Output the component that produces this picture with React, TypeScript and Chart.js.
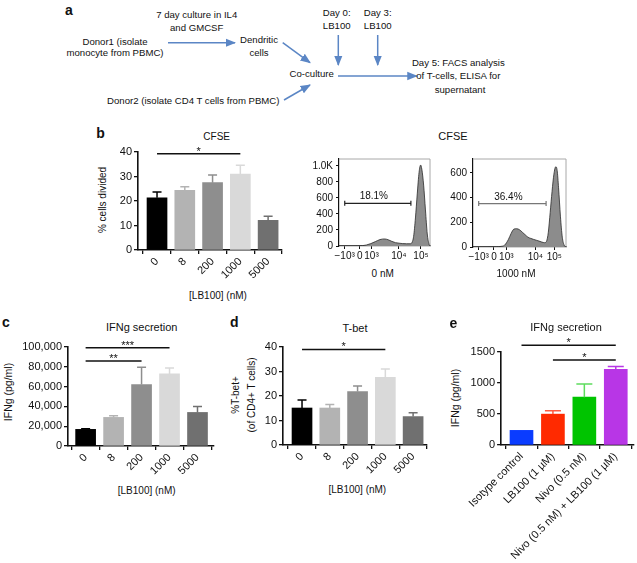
import React, { useEffect, useRef } from 'react';
import { Chart, registerables } from 'chart.js';
Chart.register(...registerables);

const FONT = '"Liberation Sans", Arial, Helvetica, sans-serif';

// ---------- data ----------
const doseLabels = ['0', '8', '200', '1000', '5000'];
const doseColors = ['#000000', '#b3b3b3', '#8e8e8e', '#d9d9d9', '#707070'];

const cfseValues = [21.3, 24.4, 27.5, 31.0, 12.1];
const cfseErrors = [2.4, 1.4, 3.1, 3.6, 1.7];

const ifngValues = [16800, 28900, 62100, 72800, 33900];
const ifngErrors = [600, 1600, 17500, 6100, 6100];

const tbetValues = [15.1, 15.1, 21.8, 27.6, 11.6];
const tbetErrors = [3.3, 1.4, 2.3, 3.4, 1.6];

const treatLabels = ['Isotype control', 'LB100 (1 µM)', 'Nivo (0.5 nM)', 'Nivo (0.5 nM) + LB100 (1 µM)'];
const treatValues = [236, 498, 772, 1222];
const treatErrors = [0, 53, 213, 43];
const treatColors = ['#0a3cff', '#ff2a00', '#00c400', '#b836e6'];
const treatErrColors = ['#0a3cff', '#ff5a40', '#5ddc5d', '#b836e6'];

const cfseSig = [{ from: 0, to: 3, y: 39.3, label: '*' }];
const ifngSig = [
  { from: 0, to: 3, y: 99200, label: '***' },
  { from: 0, to: 2, y: 85800, label: '**' },
];
const tbetSig = [{ from: 0, to: 3, y: 39.0, label: '*' }];
const treatSig = [
  { from: 0, to: 3, y: 1608, label: '*' },
  { from: 1, to: 3, y: 1371, label: '*' },
];

// histograms (x on display-transformed CFSE axis, 0..100)
const hist0nM = [
  [0, 0], [10, 0], [20, 2], [26, 5], [30, 12], [35, 30], [40, 55], [45, 80], [50, 88], [54, 78],
  [58, 58], [62, 42], [66, 35], [70, 30], [74, 28], [78, 28], [80, 40], [82, 120], [84, 350],
  [86, 650], [88, 920], [89.7, 1010], [91, 960], [93, 760], [95, 450], [97, 150], [99, 20], [100, 0],
];
const hist1000nM = [
  [0, 0], [15, 0], [25, 2], [30, 5], [34, 15], [38, 60], [41, 110], [44, 145], [47, 148], [50, 140],
  [53, 120], [56, 100], [59, 80], [62, 70], [65, 62], [68, 55], [71, 48], [74, 40], [77, 35],
  [79, 45], [81, 120], [83, 280], [85, 450], [87, 590], [89, 650], [90.5, 620], [92, 480],
  [94, 250], [96, 80], [98, 15], [100, 0],
];
const histTickLabels = ['\u221210\u00b3', '0', '10\u00b3', '10\u2074', '10\u2075'];
const histTicks0nM = [6.2, 22.8, 35.7, 65.8, 90.1];
const histTicks1000nM = [6.1, 22.5, 35.8, 67.1, 87.5];
const histYTicks0nM = [0, 200, 400, 600, 800, 1000];
const histYTicks1000nM = [0, 200, 400, 600];
const gate0nM = { from: 6.3, to: 79, y: 533, label: '18.1%' };
const gate1000nM = { from: 6.1, to: 78.6, y: 352, label: '36.4%' };

// ---------- components ----------
type Sig = { from: number; to: number; y: number; label: string };
type BarSpec = {
  labels: string[]; values: number[]; errs: number[]; colors: string[]; errColors: string[];
  yMax: number; yStep: number; fmt?: (v: number) => string; sig: Sig[];
  area: { l: number; t: number; r: number; b: number };
  xMin: number; xMax: number; barW: number; cap: number;
  yw: number; padTop: number; xh: number; padRight: number;
};

function BarPanel({ spec }: { spec: BarSpec }) {
  const ref = useRef<HTMLCanvasElement>(null);
  const { area, yw, padTop, xh, padRight } = spec;
  const w = Math.round(yw + (area.r - area.l) + padRight);
  const h = Math.round(padTop + (area.b - area.t) + xh);
  useEffect(() => {
    const extras = {
      id: 'extras',
      afterDatasetsDraw(chart: any) {
        const { ctx } = chart;
        const x = chart.scales.x, y = chart.scales.y;
        ctx.save();
        spec.values.forEach((v, i) => {
          const e = spec.errs[i];
          if (!e) return;
          const px = x.getPixelForValue(i);
          const y0 = y.getPixelForValue(v), y1 = y.getPixelForValue(v + e);
          ctx.strokeStyle = spec.errColors[i];
          ctx.lineWidth = 1.5;
          ctx.beginPath();
          ctx.moveTo(px, y0); ctx.lineTo(px, y1);
          ctx.moveTo(px - spec.cap, y1); ctx.lineTo(px + spec.cap, y1);
          ctx.stroke();
        });
        spec.sig.forEach((s) => {
          const x0 = x.getPixelForValue(s.from), x1 = x.getPixelForValue(s.to);
          const py = y.getPixelForValue(s.y);
          ctx.strokeStyle = '#111';
          ctx.lineWidth = 1.5;
          ctx.beginPath(); ctx.moveTo(x0, py); ctx.lineTo(x1, py); ctx.stroke();
          ctx.fillStyle = '#111';
          ctx.font = `11px ${FONT}`;
          ctx.textAlign = 'center';
          ctx.textBaseline = 'alphabetic';
          ctx.fillText(s.label, (x0 + x1) / 2, py + 1);
        });
        ctx.restore();
      },
    };
    const yTicks: number[] = [];
    for (let v = 0; v <= spec.yMax + 1e-9; v += spec.yStep) yTicks.push(v);
    const chart = new Chart(ref.current!, {
      type: 'bar',
      data: {
        datasets: [{
          data: spec.values.map((v, i) => ({ x: i, y: v })),
          backgroundColor: spec.colors,
          borderWidth: 0,
          barThickness: spec.barW,
        } as any],
      },
      options: {
        animation: false,
        responsive: false,
        maintainAspectRatio: false,
        layout: { padding: { left: 0, top: padTop, right: padRight, bottom: 0 } },
        plugins: { legend: { display: false }, tooltip: { enabled: false }, title: { display: false } },
        scales: {
          x: {
            type: 'linear', min: spec.xMin, max: spec.xMax, offset: false,
            afterBuildTicks: (s: any) => { s.ticks = spec.labels.map((_, i) => ({ value: i })); },
            afterFit: (s: any) => { s.height = xh; },
            ticks: {
              autoSkip: false, minRotation: 45, maxRotation: 45, padding: 1, color: '#111',
              font: { family: FONT, size: 11 },
              callback: (v: any) => spec.labels[Math.round(v)] ?? '',
            },
            grid: { display: true, drawOnChartArea: false, drawTicks: true, tickLength: 4, color: '#111', lineWidth: 1.3 },
            border: { display: true, color: '#111', width: 1.6 },
          },
          y: {
            type: 'linear', min: 0, max: spec.yMax,
            afterBuildTicks: (s: any) => { s.ticks = yTicks.map((v) => ({ value: v })); },
            afterFit: (s: any) => { s.width = yw; },
            ticks: {
              padding: 2, color: '#111', font: { family: FONT, size: 11 },
              callback: (v: any) => (spec.fmt ? spec.fmt(Number(v)) : String(v)),
            },
            grid: { display: true, drawOnChartArea: false, drawTicks: true, tickLength: 4, color: '#111', lineWidth: 1.3 },
            border: { display: true, color: '#111', width: 1.6 },
          },
        },
      } as any,
      plugins: [extras],
    });
    return () => chart.destroy();
  }, []);
  return (
    <canvas ref={ref} width={w} height={h}
      style={{ position: 'absolute', left: area.l - yw, top: area.t - padTop, width: w, height: h }} />
  );
}

type HistSpec = {
  data: number[][]; ticks: number[]; yTicks: number[]; yMax: number;
  gate: { from: number; to: number; y: number; label: string }; gateColor: string;
  area: { l: number; t: number; r: number; b: number };
};

function HistPanel({ spec }: { spec: HistSpec }) {
  const ref = useRef<HTMLCanvasElement>(null);
  const yw = 30, padTop = 4, padRight = 4, xh = 22;
  const { area } = spec;
  const w = Math.round(yw + (area.r - area.l) + padRight);
  const h = Math.round(padTop + (area.b - area.t) + xh);
  useEffect(() => {
    const extras = {
      id: 'histExtras',
      beforeDatasetsDraw(chart: any) {
        const { ctx, chartArea: ca } = chart;
        ctx.save();
        ctx.strokeStyle = '#a8a8a8';
        ctx.lineWidth = 1;
        ctx.beginPath();
        ctx.moveTo(ca.left, ca.top); ctx.lineTo(ca.right, ca.top); ctx.lineTo(ca.right, ca.bottom);
        ctx.stroke();
        ctx.restore();
      },
      afterDatasetsDraw(chart: any) {
        const { ctx } = chart;
        const x = chart.scales.x, y = chart.scales.y;
        const g = spec.gate;
        const x0 = x.getPixelForValue(g.from), x1 = x.getPixelForValue(g.to), py = y.getPixelForValue(g.y);
        ctx.save();
        ctx.strokeStyle = spec.gateColor;
        ctx.lineWidth = 1.2;
        ctx.beginPath();
        ctx.moveTo(x0, py); ctx.lineTo(x1, py);
        ctx.moveTo(x0, py - 2.5); ctx.lineTo(x0, py + 2.5);
        ctx.moveTo(x1, py - 2.5); ctx.lineTo(x1, py + 2.5);
        ctx.stroke();
        ctx.fillStyle = '#111';
        ctx.font = `10px ${FONT}`;
        ctx.textAlign = 'center';
        ctx.textBaseline = 'alphabetic';
        ctx.fillText(g.label, (x0 + x1) / 2 - 4, py - 4);
        ctx.restore();
      },
    };
    const chart = new Chart(ref.current!, {
      type: 'line',
      data: {
        datasets: [{
          data: spec.data.map(([a, b]) => ({ x: a, y: b })),
          borderColor: '#2a2a2a', borderWidth: 0.8, backgroundColor: '#8c8c8c',
          fill: 'origin', pointRadius: 0, tension: 0.35, cubicInterpolationMode: 'monotone',
        } as any],
      },
      options: {
        animation: false, responsive: false, maintainAspectRatio: false,
        layout: { padding: { left: 0, top: padTop, right: padRight, bottom: 0 } },
        plugins: { legend: { display: false }, tooltip: { enabled: false } },
        scales: {
          x: {
            type: 'linear', min: 0, max: 100,
            afterBuildTicks: (s: any) => { s.ticks = spec.ticks.map((v) => ({ value: v })); },
            afterFit: (s: any) => { s.height = xh; },
            ticks: {
              autoSkip: false, maxRotation: 0, padding: 1, color: '#111', font: { family: FONT, size: 10 },
              callback: (v: any) => {
                const i = spec.ticks.findIndex((t) => Math.abs(t - Number(v)) < 1e-6);
                return i >= 0 ? histTickLabels[i] : '';
              },
            },
            grid: { display: true, drawOnChartArea: false, drawTicks: true, tickLength: 3, color: '#111', lineWidth: 1 },
            border: { display: true, color: '#555', width: 1.2 },
          },
          y: {
            type: 'linear', min: 0, max: spec.yMax,
            afterBuildTicks: (s: any) => { s.ticks = spec.yTicks.map((v) => ({ value: v })); },
            afterFit: (s: any) => { s.width = yw; },
            ticks: {
              padding: 3, color: '#111', font: { family: FONT, size: 10 },
              callback: (v: any) => (Number(v) >= 1000 ? (Number(v) / 1000).toFixed(1) + 'K' : String(v)),
            },
            grid: { display: true, drawOnChartArea: false, drawTicks: true, tickLength: 3, color: '#111', lineWidth: 1 },
            border: { display: true, color: '#111', width: 1.2 },
          },
        },
      } as any,
      plugins: [extras],
    });
    return () => chart.destroy();
  }, []);
  return (
    <canvas ref={ref} width={w} height={h}
      style={{ position: 'absolute', left: area.l - yw, top: area.t - padTop, width: w, height: h }} />
  );
}

function T({ x, y, s = 10, bold = false, rot = 0, children }: any) {
  return (
    <div style={{
      position: 'absolute', left: x, top: y, transform: `translate(-50%, -50%) rotate(${rot}deg)`,
      fontFamily: FONT, fontSize: s, fontWeight: bold ? 700 : 400, whiteSpace: 'nowrap', lineHeight: 1,
      color: '#111',
    }}>{children}</div>
  );
}

const arrows = [
  [168, 42.7, 235, 42.7],
  [282.7, 42.7, 310, 62.7],
  [284, 100, 310, 85],
  [338, 76, 416.7, 76],
  [338.3, 35, 338.3, 65],
  [377.7, 35, 377.7, 65],
];

const fmtComma = (v: number) => v.toLocaleString('en-US');

export default function App() {
  const specB: BarSpec = {
    labels: doseLabels, values: cfseValues, errs: cfseErrors, colors: doseColors, errColors: doseColors,
    yMax: 40, yStep: 10, sig: cfseSig,
    area: { l: 137.7, t: 151.7, r: 281.7, b: 250 }, xMin: -0.685, xMax: 4.5, barW: 20, cap: 4.5,
    yw: 24, padTop: 12, xh: 40, padRight: 6,
  };
  const specC: BarSpec = {
    labels: doseLabels, values: ifngValues, errs: ifngErrors, colors: doseColors, errColors: doseColors,
    yMax: 100000, yStep: 20000, fmt: fmtComma, sig: ifngSig,
    area: { l: 67.7, t: 346.7, r: 213.3, b: 446 }, xMin: -0.63, xMax: 4.59, barW: 20, cap: 4.5,
    yw: 50, padTop: 12, xh: 36, padRight: 6,
  };
  const specD: BarSpec = {
    labels: doseLabels, values: tbetValues, errs: tbetErrors, colors: doseColors, errColors: doseColors,
    yMax: 40, yStep: 10, sig: tbetSig,
    area: { l: 282.7, t: 346.7, r: 426.7, b: 444.3 }, xMin: -0.685, xMax: 4.5, barW: 20, cap: 4.5,
    yw: 24, padTop: 12, xh: 36, padRight: 6,
  };
  const specE: BarSpec = {
    labels: treatLabels, values: treatValues, errs: treatErrors, colors: treatColors, errColors: treatErrColors,
    yMax: 1500, yStep: 500, sig: treatSig,
    area: { l: 496.7, t: 351.7, r: 633.3, b: 445 }, xMin: -0.65, xMax: 3.58, barW: 23, cap: 8,
    yw: 32, padTop: 16, xh: 115, padRight: 3,
  };
  const specH1: HistSpec = {
    data: hist0nM, ticks: histTicks0nM, yTicks: histYTicks0nM, yMax: 1086, gate: gate0nM, gateColor: '#222',
    area: { l: 339.3, t: 154, r: 430, b: 245.7 },
  };
  const specH2: HistSpec = {
    data: hist1000nM, ticks: histTicks1000nM, yTicks: histYTicks1000nM, yMax: 713, gate: gate1000nM, gateColor: '#777',
    area: { l: 473.3, t: 154, r: 566.7, b: 247 },
  };

  return (
    <div style={{ position: 'absolute', left: 0, top: 0, width: 637, height: 563, background: '#fff', overflow: 'hidden' }}>
      {/* panel a */}
      <svg width={637} height={120} style={{ position: 'absolute', left: 0, top: 0 }}>
        <defs>
          <marker id="ah" viewBox="0 0 10 10" refX="9" refY="5" markerWidth="7" markerHeight="7" orient="auto">
            <path d="M0,1 L10,5 L0,9 z" fill="#5b86c5" />
          </marker>
        </defs>
        {arrows.map((a, i) => (
          <line key={i} x1={a[0]} y1={a[1]} x2={a[2]} y2={a[3]} stroke="#5b86c5" strokeWidth={1.5} markerEnd="url(#ah)" />
        ))}
      </svg>
      <T x={69} y={10} s={14} bold>a</T>
      <T x={196.7} y={15} s={9.6}>7 day culture in IL4</T>
      <T x={196.7} y={28.3} s={9.6}>and GMCSF</T>
      <T x={115} y={41.7} s={9.6}>Donor1 (isolate</T>
      <T x={115} y={53.3} s={9.6}>monocyte from PBMC)</T>
      <T x={259} y={40} s={9.6}>Dendritic</T>
      <T x={259} y={53.3} s={9.6}>cells</T>
      <T x={311.7} y={74} s={9.6}>Co-culture</T>
      <T x={336.7} y={12.7} s={9.6}>Day 0:</T>
      <T x={336.7} y={25.7} s={9.6}>LB100</T>
      <T x={377.7} y={12.7} s={9.6}>Day 3:</T>
      <T x={377.7} y={25.7} s={9.6}>LB100</T>
      <T x={458.3} y={62.7} s={9.6}>Day 5: FACS analysis</T>
      <T x={458.3} y={76} s={9.6}>of T-cells, ELISA for</T>
      <T x={460} y={89.5} s={9.6}>supernatant</T>
      <T x={193.3} y={101} s={9.6}>Donor2 (isolate CD4 T cells from PBMC)</T>

      {/* panel b */}
      <T x={100.5} y={133} s={14} bold>b</T>
      <T x={216.7} y={136.7} s={10}>CFSE</T>
      <T x={103.3} y={200} s={10} rot={-90}>% cells divided</T>
      <T x={218} y={296} s={10}>[LB100] (nM)</T>
      <BarPanel spec={specB} />

      <T x={453} y={136} s={11}>CFSE</T>
      <HistPanel spec={specH1} />
      <HistPanel spec={specH2} />
      <T x={382.7} y={274} s={10}>0 nM</T>
      <T x={516} y={274} s={10}>1000 nM</T>

      {/* panel c */}
      <T x={6} y={321.7} s={14} bold>c</T>
      <T x={141.7} y={326.7} s={11}>IFNg secretion</T>
      <T x={8} y={391.7} s={10.5} rot={-90}>IFNg (pg/ml)</T>
      <T x={146.7} y={491} s={10}>[LB100] (nM)</T>
      <BarPanel spec={specC} />

      {/* panel d */}
      <T x={234.3} y={321.7} s={14} bold>d</T>
      <T x={355} y={328.3} s={11}>T-bet</T>
      <T x={236} y={395} s={10} rot={-90}>%T-bet+</T>
      <T x={251.7} y={395} s={10} rot={-90}>(of CD4+ T cells)</T>
      <T x={357.3} y={490} s={10}>[LB100] (nM)</T>
      <BarPanel spec={specD} />

      {/* panel e */}
      <T x={453.3} y={323.3} s={14} bold>e</T>
      <T x={566} y={326.7} s={11}>IFNg secretion</T>
      <T x={455} y={398.3} s={10.5} rot={-90}>IFNg (pg/ml)</T>
      <BarPanel spec={specE} />
    </div>
  );
}
